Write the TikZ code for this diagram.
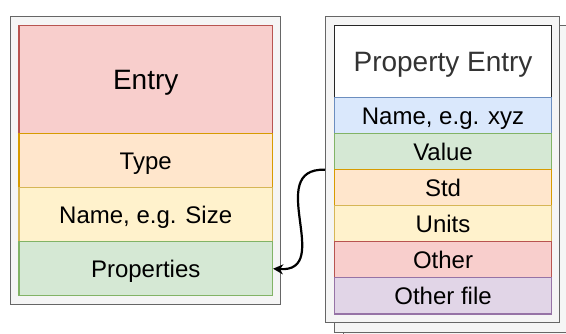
\documentclass[tikz,border=0pt]{standalone}
\usepackage{fontspec}
\setmainfont{Liberation Sans}
\usetikzlibrary{arrows.meta}
\definecolor{redF}{HTML}{F8CECC}\definecolor{redS}{HTML}{B85450}
\definecolor{oraF}{HTML}{FFE6CC}\definecolor{oraS}{HTML}{D79B00}
\definecolor{yelF}{HTML}{FFF2CC}\definecolor{yelS}{HTML}{D6B656}
\definecolor{greF}{HTML}{D5E8D4}\definecolor{greS}{HTML}{82B366}
\definecolor{bluF}{HTML}{DAE8FC}\definecolor{bluS}{HTML}{6C8EBF}
\definecolor{purF}{HTML}{E1D5E7}\definecolor{purS}{HTML}{9673A6}
\definecolor{grayF}{HTML}{F5F5F5}\definecolor{grayS}{HTML}{666666}
\definecolor{darktext}{HTML}{333333}
\tikzset{
  container/.style={draw=grayS, fill=grayF, line width=1.4pt, inner sep=0pt, anchor=north west},
  cell/.style={line width=1.4pt, inner sep=0pt, anchor=north west,
     font=\fontsize{24}{28}\selectfont, text height=17.6pt, text depth=0pt},
  titlecell/.style={cell, font=\fontsize{28}{32}\selectfont, text height=20.4pt},
  link/.style={line width=2.2pt, -{Stealth[length=10pt,width=10pt,inset=3pt]}},
}
\begin{document}
\begin{tikzpicture}[x=1pt,y=-1pt]
\useasboundingbox (0,0) rectangle (566,333);
\begin{scope}
\clip (0,0) rectangle (566,333);
% left container
\node[container, minimum width=270pt, minimum height=288pt] (lbox) at (10,16) {};
\node[titlecell, draw=redS, fill=redF, minimum width=253.4pt, minimum height=108pt] (entry) at (18.3,25) {Entry};
\node[cell, draw=oraS, fill=oraF, minimum width=253.4pt, minimum height=54pt] (type) at (18.3,133) {Type};
\node[cell, draw=yelS, fill=yelF, minimum width=253.4pt, minimum height=54pt] (lname) at (18.3,187) {Name, e.g. Size};
\node[cell, draw=greS, fill=greF, minimum width=253.4pt, minimum height=54pt] (props) at (18.3,241) {Properties};
% right stacked containers
\node[container, minimum width=234pt, minimum height=307pt] (pbox3) at (343,34) {};
\node[container, minimum width=234pt, minimum height=307pt] (pbox2) at (334,25) {};
\node[container, minimum width=234pt, minimum height=306pt] (pbox) at (325,16) {};
\node[titlecell, draw=black!85, fill=white, text=darktext, minimum width=216.7pt, minimum height=71.7pt] (ptitle) at (334,25) {Property Entry};
\node[cell, draw=bluS, fill=bluF, minimum width=216.7pt, minimum height=36pt] (pname) at (334,96.7) {Name, e.g. xyz};
\node[cell, draw=greS, fill=greF, minimum width=216.7pt, minimum height=36pt] (pvalue) at (334,132.7) {Value};
\node[cell, draw=oraS, fill=oraF, minimum width=216.7pt, minimum height=36pt] (pstd) at (334,168.7) {Std};
\node[cell, draw=yelS, fill=yelF, minimum width=216.7pt, minimum height=36pt] (punits) at (334,204.7) {Units};
\node[cell, draw=redS, fill=redF, minimum width=216.7pt, minimum height=36pt] (pother) at (334,240.7) {Other};
\node[cell, draw=purS, fill=purF, minimum width=216.7pt, minimum height=36.6pt] (pfile) at (334,276.7) {Other file};
% connector
\draw[link] (pbox.west) .. controls +(-62,-2) and +(62,4) .. (props.east);
\end{scope}
\end{tikzpicture}
\end{document}
